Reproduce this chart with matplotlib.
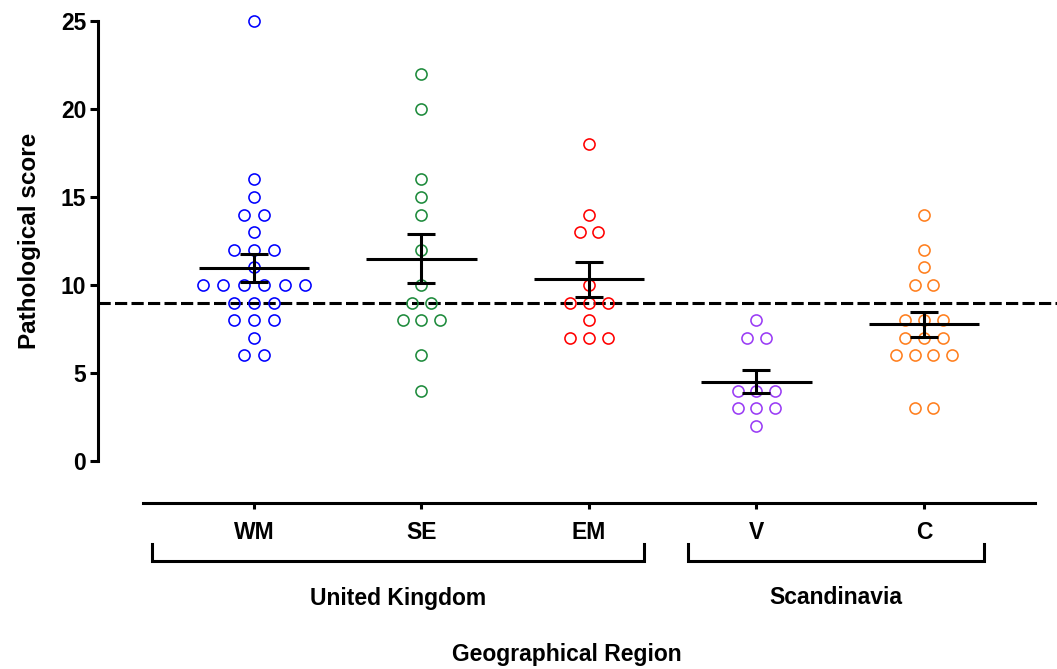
import numpy as np
import matplotlib.pyplot as plt
from matplotlib import transforms

# scores per region
regions = ['WM', 'SE', 'EM', 'V', 'C']
colors = ['#0000FF', '#1E8B3C', '#FF0000', '#9A3CF5', '#FF7F1E']
wm_scores = [25, 16, 15, 14, 14, 13, 12, 12, 12, 11, 10, 10, 10, 10, 10, 10, 9, 9, 9, 8, 8, 8, 7, 6, 6]
se_scores = [22, 20, 16, 15, 14, 12, 10, 9, 9, 8, 8, 8, 6, 4]
em_scores = [18, 14, 13, 13, 10, 9, 9, 9, 8, 7, 7, 7]
v_scores = [8, 7, 7, 4, 4, 4, 3, 3, 3, 2]
c_scores = [14, 12, 11, 10, 10, 8, 8, 8, 7, 7, 7, 6, 6, 6, 6, 3, 3]
all_scores = [wm_scores, se_scores, em_scores, v_scores, c_scores]
countries = ['United Kingdom', 'Scandinavia']
country_span = [(0, 2), (3, 4)]
threshold = 9

plt.rcParams['font.family'] = ['Liberation Sans', 'DejaVu Sans']
plt.rcParams['font.weight'] = 'bold'

fig = plt.figure(figsize=(10.57, 6.69), dpi=100)
ax = fig.add_axes([98 / 1057, 208 / 669, 1 - 98 / 1057, 440 / 669])
LW = 2.2

spacing = [0.122, 0.112, 0.112, 0.112, 0.112]
for i, scores in enumerate(all_scores):
    vals = np.array(scores, dtype=float)
    # simple beeswarm: spread equal values side by side
    xs = np.zeros(len(vals))
    for v in np.unique(vals):
        idx = np.where(vals == v)[0]
        n = len(idx)
        xs[idx] = i + (np.arange(n) - (n - 1) / 2) * spacing[i]
    ax.plot(xs, vals, 'o', ms=8, mfc='none', mec=colors[i], mew=1.15,
            clip_on=False, zorder=3, linestyle='none')
    m = vals.mean()
    sem = vals.std(ddof=1) / np.sqrt(len(vals))
    ax.plot([i - 0.33, i + 0.33], [m, m], color='black', lw=LW, zorder=4, solid_capstyle='butt')
    ax.errorbar(i, m, yerr=sem, fmt='none', ecolor='black', elinewidth=LW,
                capsize=10, capthick=LW, zorder=4)

dash = ax.axhline(threshold, color='black', lw=LW, zorder=2)
dash.set_dashes([4, 1.4])

ax.set_xlim((98 - 254) / 167.5, (1057 - 254) / 167.5)
ax.set_ylim(0, 25)
ax.set_yticks([0, 5, 10, 15, 20, 25])
ax.set_xticks(range(len(regions)))
ax.set_xticklabels(regions)

for s in ['top', 'right']:
    ax.spines[s].set_visible(False)
ax.spines['left'].set_linewidth(LW)
ax.spines['bottom'].set_linewidth(LW)
ax.spines['bottom'].set_position(('outward', 30))
ax.spines['bottom'].set_bounds((143 - 254) / 167.5, (1035 - 254) / 167.5)

ax.tick_params(axis='y', length=5.5, width=LW, labelsize=16.5, pad=3)
ax.tick_params(axis='x', length=4, width=LW, labelsize=16.5, pad=9)
ax.set_ylabel('Pathological score', fontsize=17.5, fontweight='bold', labelpad=14)

# country brackets under the axis
trans = transforms.blended_transform_factory(ax.transData, fig.transFigure)
y_low, y_high = 108 / 669, 125 / 669
bracket_pad = [(0.61, 0.33), (0.41, 0.36)]
for name, (a, b), (pl, pr) in zip(countries, country_span, bracket_pad):
    x0, x1 = a - pl, b + pr
    ax.plot([x0, x0, x1, x1], [y_high, y_low, y_low, y_high], color='black',
            lw=LW, transform=trans, clip_on=False, solid_joinstyle='miter')
    ax.text((x0 + x1) / 2, 71 / 669, name, transform=trans, ha='center', va='center',
            fontsize=16.5, fontweight='bold')

fig.text(567 / 1057, 14 / 669, 'Geographical Region', ha='center', va='center',
         fontsize=16.5, fontweight='bold')

fig.savefig('out.png', dpi=100)
